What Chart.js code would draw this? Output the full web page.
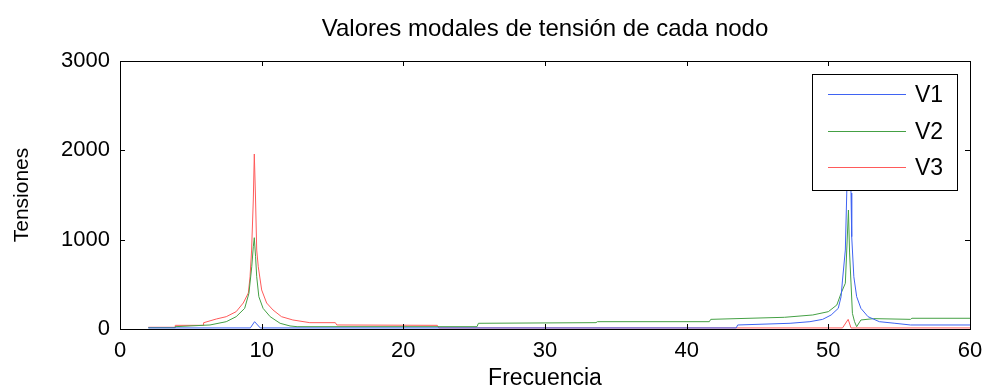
<!DOCTYPE html>
<html>
<head>
<meta charset="utf-8">
<script src="https://cdn.jsdelivr.net/npm/chart.js@4"></script>
<style>
  body { margin: 0; background: #fff; }
</style>
</head>
<body>
<canvas id="grafico" width="982" height="390"></canvas>
<script>
// datos (frecuencia / tension)
var frecV1 = [2, 9.2, 9.5, 9.9, 43.5, 43.6, 47.3, 48.7, 49.6, 50.2, 50.7, 50.9, 51.0, 51.2, 51.3, 51.45, 51.6, 51.65, 51.8, 52.0, 52.3, 52.8, 53.6, 54.7, 55.8, 60];
var tensV1 = [12, 12, 82, 12, 12, 45, 64, 82, 108, 157, 231, 362, 548, 884, 1522, 2700, 1522, 1033, 585, 362, 231, 138, 82, 64, 45, 45];

var frecV2 = [2, 3.9, 3.9, 6.35, 7.5, 8.2, 8.8, 9.1, 9.3, 9.41, 9.48, 9.57, 9.65, 9.8, 10.1, 10.6, 11.3, 12.0, 12.5, 25.2, 25.3, 33.6, 33.7, 41.6, 41.7, 46.9, 48.9, 50.0, 50.6, 50.9, 51.2, 51.3, 51.42, 51.5, 51.6, 51.7, 51.85, 52.0, 52.3, 53.2, 55.8, 55.9, 60];
var tensV2 = [15, 15, 26, 45, 82, 138, 231, 399, 697, 921, 1022, 809, 585, 362, 231, 138, 64, 34, 26, 26, 64, 71, 82, 82, 108, 131, 157, 194, 269, 400, 512, 884, 1332, 851, 515, 175, 82, 26, 101, 116, 108, 120, 120];

var frecV3 = [2, 3.9, 3.9, 5.9, 5.9, 6.8, 7.5, 8.2, 8.7, 9.06, 9.18, 9.29, 9.41, 9.48, 9.57, 9.65, 9.76, 10.0, 10.35, 10.8, 11.4, 12.2, 13.4, 15.2, 15.3, 22.4, 22.5, 51.0, 51.4, 51.6, 60];
var tensV3 = [19, 19, 41, 41, 70, 112, 138, 194, 291, 403, 585, 884, 1444, 1959, 1444, 884, 697, 437, 291, 213, 138, 101, 71, 71, 45, 41, 12, 12, 108, 12, 12];

var etiquetas = ['V1', 'V2', 'V3'];
var colores = ['#3f63f2', '#44a044', '#ff5a5a'];
var ticksX = [0, 10, 20, 30, 40, 50, 60];
var ticksY = [0, 1000, 2000, 3000];
var titulo = 'Valores modales de tensión de cada nodo';

var fuente = '"Liberation Sans", Arial, sans-serif';

function puntos(xs, ys) {
    return xs.map(function(x, i) { return {x: x, y: ys[i]}; });
}

// marco, marcas hacia dentro, titulo y leyenda al estilo MATLAB
var estiloMatlab = {
    id: 'estiloMatlab',
    afterDraw: function(chart) {
        var ctx = chart.ctx;
        var a = chart.chartArea;
        var sx = chart.scales.x, sy = chart.scales.y;
        ctx.save();
        ctx.strokeStyle = '#000';
        ctx.lineWidth = 1;
        ctx.strokeRect(Math.round(a.left) + 0.5, Math.round(a.top) + 0.5, Math.round(a.right - a.left), Math.round(a.bottom - a.top));
        ctx.beginPath();
        ticksX.forEach(function(v) {
            var px = Math.round(sx.getPixelForValue(v)) + 0.5;
            ctx.moveTo(px, a.bottom); ctx.lineTo(px, a.bottom - 5);
            ctx.moveTo(px, a.top); ctx.lineTo(px, a.top + 5);
        });
        ticksY.forEach(function(v) {
            var py = Math.round(sy.getPixelForValue(v)) + 0.5;
            ctx.moveTo(a.left, py); ctx.lineTo(a.left + 5, py);
            ctx.moveTo(a.right, py); ctx.lineTo(a.right - 5, py);
        });
        ctx.stroke();

        // titulo centrado sobre el area del grafico
        ctx.fillStyle = '#000';
        ctx.font = '24px ' + fuente;
        ctx.textAlign = 'center';
        ctx.textBaseline = 'middle';
        ctx.fillText(titulo, (a.left + a.right) / 2, 29);

        // leyenda
        var lx = 812, ly = 74, lw = 145, lh = 116;
        ctx.fillStyle = '#fff';
        ctx.fillRect(lx, ly, lw, lh);
        ctx.strokeRect(lx + 0.5, ly + 0.5, lw, lh);
        ctx.font = '23px ' + fuente;
        ctx.textAlign = 'left';
        chart.data.datasets.forEach(function(ds, i) {
            var y = Math.round(ly + 20 + i * 36.5) + 0.5;
            ctx.strokeStyle = ds.borderColor;
            ctx.beginPath();
            ctx.moveTo(828, y); ctx.lineTo(906, y);
            ctx.stroke();
            ctx.fillStyle = '#000';
            ctx.fillText(ds.label, 915, y + 1);
        });
        ctx.restore();
    }
};

var ctx = document.getElementById('grafico').getContext('2d');
var grafico = new Chart(ctx, {
    type: 'line',
    data: {
        datasets: [
            {label: etiquetas[0], data: puntos(frecV1, tensV1), borderColor: colores[0]},
            {label: etiquetas[1], data: puntos(frecV2, tensV2), borderColor: colores[1]},
            {label: etiquetas[2], data: puntos(frecV3, tensV3), borderColor: colores[2]}
        ].map(function(d) {
            d.borderWidth = 1;
            d.pointRadius = 0;
            d.tension = 0;
            d.fill = false;
            return d;
        })
    },
    options: {
        responsive: false,
        animation: false,
        layout: { padding: { left: 0, right: 12, top: 61, bottom: 0 } },
        plugins: {
            legend: { display: false },
            tooltip: { enabled: false },
            title: { display: false }
        },
        scales: {
            x: {
                type: 'linear',
                min: 0,
                max: 60,
                afterBuildTicks: function(s) { s.ticks = ticksX.map(function(v) { return {value: v}; }); },
                afterFit: function(s) { s.height = 61; s.paddingLeft = 0; s.paddingRight = 0; },
                grid: { display: false, drawTicks: false },
                border: { display: false },
                ticks: {
                    color: '#000', padding: 9, maxRotation: 0,
                    font: { family: fuente, size: 22 },
                    callback: function(v) { return String(v); }
                },
                title: {
                    display: true,
                    text: 'Frecuencia',
                    color: '#000',
                    font: { family: fuente, size: 23, lineHeight: 1.0 },
                    padding: { top: 0, bottom: 0 }
                }
            },
            y: {
                min: 0,
                max: 3000,
                afterBuildTicks: function(s) { s.ticks = ticksY.map(function(v) { return {value: v}; }); },
                afterFit: function(s) { s.width = 120; s.paddingTop = 0; s.paddingBottom = 0; },
                grid: { display: false, drawTicks: false },
                border: { display: false },
                ticks: {
                    color: '#000', padding: 10,
                    font: { family: fuente, size: 22 },
                    callback: function(v) { return String(v); }
                },
                title: {
                    display: true,
                    text: 'Tensiones',
                    color: '#000',
                    font: { family: fuente, size: 21 },
                    padding: { top: 10, bottom: 0 }
                }
            }
        }
    },
    plugins: [estiloMatlab]
});
</script>
</body>
</html>
